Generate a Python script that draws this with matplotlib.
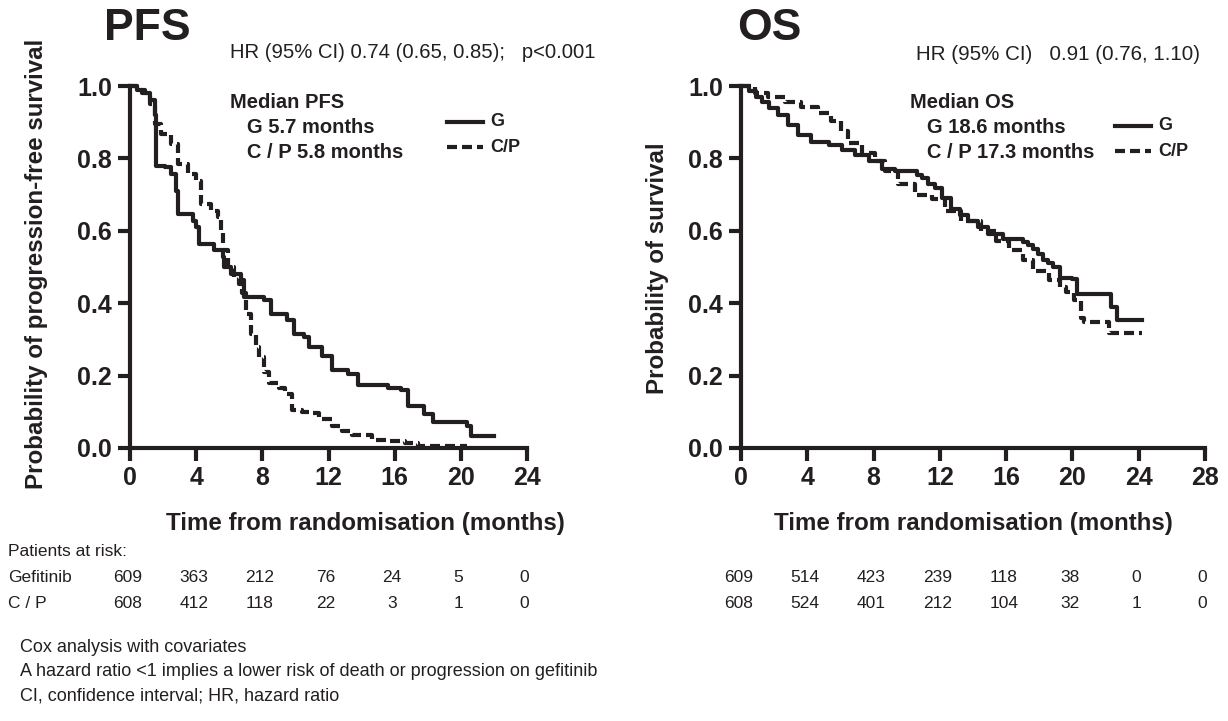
import matplotlib
matplotlib.use("Agg")
import matplotlib.pyplot as plt
import matplotlib.transforms as mtransforms

plt.rcParams["font.family"] = ["Liberation Sans", "DejaVu Sans"]

W, H = 1228, 721

# ---------------------------------------------------------------- data
pfs_g_t = [0, 0.4, 0.7, 1.2, 1.5, 1.6, 2.1, 2.5, 2.8, 2.9, 3.8, 4.0, 4.2, 5.1, 5.6, 5.7, 6.1, 6.7, 6.9, 8.1,
           8.5, 9.5, 9.9, 10.5, 10.8, 11.6, 12.2, 13.2, 13.8, 15.6, 16.4, 16.8, 17.8, 18.3, 20.4, 20.6, 22.0]
pfs_g_s = [1.0, 0.99, 0.98, 0.96, 0.92, 0.78, 0.775, 0.757, 0.71, 0.647, 0.628, 0.61, 0.564, 0.546, 0.528, 0.50,
           0.48, 0.463, 0.417, 0.408, 0.37, 0.353, 0.316, 0.307, 0.28, 0.255, 0.215, 0.205, 0.175, 0.165, 0.16,
           0.115, 0.095, 0.073, 0.06, 0.032, 0.032]

pfs_cp_t = [0, 0.4, 0.9, 1.2, 1.5, 1.9, 2.5, 2.9, 3.5, 4.0, 4.3, 4.9, 5.3, 5.5, 5.6, 5.9, 6.3, 6.6, 6.8, 7.0,
            7.3, 7.6, 7.8, 8.1, 8.4, 9.0, 9.4, 9.8, 10.4, 10.8, 11.4, 12.2, 12.8, 13.4, 14.6, 15.6, 16.6, 17.4, 20.4]
pfs_cp_s = [1.0, 0.99, 0.98, 0.95, 0.895, 0.867, 0.84, 0.784, 0.757, 0.738, 0.674, 0.656, 0.638, 0.60, 0.546,
            0.50, 0.472, 0.454, 0.427, 0.37, 0.316, 0.28, 0.25, 0.21, 0.18, 0.165, 0.15, 0.105, 0.10, 0.096,
            0.08, 0.06, 0.047, 0.037, 0.023, 0.018, 0.014, 0.005, 0.005]

os_g_t = [0, 0.5, 0.9, 1.25, 1.7, 2.25, 2.85, 3.45, 4.25, 5.3, 6.1, 6.9, 7.7, 8.5, 9.3, 10.6, 10.9, 11.3, 11.7,
          12.1, 12.7, 13.2, 13.7, 14.3, 14.9, 15.8, 17.0, 17.3, 17.6, 17.9, 18.2, 18.5, 18.8, 19.25, 20.0, 20.3,
          22.3, 22.7, 24.2]
os_g_s = [1.0, 0.985, 0.97, 0.957, 0.94, 0.92, 0.893, 0.865, 0.845, 0.838, 0.824, 0.81, 0.792, 0.772, 0.765,
          0.755, 0.746, 0.73, 0.719, 0.69, 0.66, 0.645, 0.627, 0.61, 0.59, 0.578, 0.569, 0.56, 0.55, 0.535,
          0.52, 0.51, 0.50, 0.47, 0.468, 0.425, 0.39, 0.353, 0.353]

os_cp_t = [0, 0.85, 1.65, 2.65, 3.65, 4.65, 5.45, 6.05, 6.45, 7.3, 8.1, 8.7, 9.5, 10.5, 11.5, 12.3, 13.3, 14.5,
           15.4, 16.2, 17.0, 17.6, 18.6, 19.25, 19.6, 20.1, 20.5, 20.7, 22.2, 24.2]
os_cp_s = [1.0, 0.98, 0.97, 0.957, 0.943, 0.925, 0.902, 0.875, 0.842, 0.815, 0.792, 0.765, 0.728, 0.70, 0.687,
           0.655, 0.627, 0.60, 0.573, 0.546, 0.518, 0.49, 0.463, 0.445, 0.43, 0.41, 0.36, 0.349, 0.317, 0.317]

pfs_ticks = [0, 4, 8, 12, 16, 20, 24]
os_ticks = [0, 4, 8, 12, 16, 20, 24, 28]
y_ticks = [0.0, 0.2, 0.4, 0.6, 0.8, 1.0]

pfs_risk_g = [609, 363, 212, 76, 24, 5, 0]
pfs_risk_cp = [608, 412, 118, 22, 3, 1, 0]
os_risk_g = [609, 514, 423, 239, 118, 38, 0, 0]
os_risk_cp = [608, 524, 401, 212, 104, 32, 1, 0]

footnotes = [
    "Cox analysis with covariates",
    "A hazard ratio <1 implies a lower risk of death or progression on gefitinib",
    "CI, confidence interval; HR, hazard ratio",
]

ink = "#231f20"


def fx(x):
    return x / W


def fy(y):
    return 1 - y / H


def style_axis(ax, xmax, ticks, ylabel):
    ax.set_xlim(0, xmax)
    ax.set_ylim(0, 1.0)
    ax.set_xticks(ticks)
    ax.set_yticks(y_ticks)
    ax.set_yticklabels([f"{v:.1f}" for v in y_ticks])
    for side in ("top", "right"):
        ax.spines[side].set_visible(False)
    for side in ("left", "bottom"):
        ax.spines[side].set_linewidth(3)
        ax.spines[side].set_color(ink)
    ax.tick_params(direction="out", length=9, width=3, color=ink,
                   labelsize=18, pad=4, labelcolor=ink)
    for lab in ax.get_xticklabels() + ax.get_yticklabels():
        lab.set_fontweight("bold")
    ax.set_xlabel("Time from randomisation (months)", fontsize=17.4, fontweight="bold",
                  color=ink, labelpad=16)
    ax.set_ylabel(ylabel, fontsize=17.4, fontweight="bold", color=ink)


def plot_curves(ax, g_t, g_s, cp_t, cp_s):
    ax.step(g_t, g_s, where="post", color=ink, lw=3, clip_on=False, zorder=4)
    ax.step(cp_t, cp_s, where="post", color=ink, lw=3, clip_on=False, zorder=3,
            dashes=(2.4, 1.2))


fig = plt.figure(figsize=(W / 100, H / 100), dpi=100)
ax1 = fig.add_axes([fx(130), fy(448), fx(527 - 130), (448 - 86) / H])
ax2 = fig.add_axes([fx(741), fy(448), fx(1205 - 741), (448 - 86) / H])

plot_curves(ax1, pfs_g_t, pfs_g_s, pfs_cp_t, pfs_cp_s)
plot_curves(ax2, os_g_t, os_g_s, os_cp_t, os_cp_s)
style_axis(ax1, 24, pfs_ticks, "Probability of progression-free survival")
style_axis(ax2, 28, os_ticks, "Probability of survival")
ax1.yaxis.set_label_coords((48 - 130) / 397, (448 - 264) / 362)
ax2.yaxis.set_label_coords((669 - 741) / 464, (448 - 268) / 362)
ax1.xaxis.label.set_x((365 - 130) / 397)

# titles and HR
fig.text(fx(104), fy(28), "PFS", fontsize=32, fontweight="bold", va="center", color=ink)
fig.text(fx(737), fy(28), "OS", fontsize=32, fontweight="bold", va="center", color=ink)
fig.text(fx(230), fy(52), "HR (95% CI) 0.74 (0.65, 0.85);   p<0.001", fontsize=14.6, va="center", color=ink)
fig.text(fx(916), fy(55), "HR (95% CI)   0.91 (0.76, 1.10)", fontsize=14.8, va="center", color=ink)

# median boxes
for x0, lines in ((230, ["Median PFS", "   G 5.7 months", "   C / P 5.8 months"]),
                  (910, ["Median OS", "   G 18.6 months", "   C / P 17.3 months"])):
    for i, s in enumerate(lines):
        fig.text(fx(x0), fy(102 + 25.5 * i), s, fontsize=14.5, fontweight="bold", va="center", color=ink)

# legend keys
for x0, y0 in ((447, 122), (1115, 126)):
    fig.add_artist(plt.Line2D([fx(x0), fx(x0 + 36)], [fy(y0), fy(y0)], color=ink, lw=3))
    fig.add_artist(plt.Line2D([fx(x0), fx(x0 + 36)], [fy(y0 + 25), fy(y0 + 25)], color=ink, lw=3,
                              dashes=(2.4, 1.2)))
    fig.text(fx(x0 + 43), fy(y0), "G", fontsize=13, fontweight="bold", va="center", color=ink)
    fig.text(fx(x0 + 43), fy(y0 + 25), "C/P", fontsize=13, fontweight="bold", va="center", color=ink)

# patients at risk
fig.text(fx(8), fy(552), "Patients at risk:", fontsize=12.5, va="center", color=ink)
fig.text(fx(8), fy(578), "Gefitinib", fontsize=12.5, va="center", color=ink)
fig.text(fx(8), fy(604), "C / P", fontsize=12.5, va="center", color=ink)
for ax, ticks, rows in ((ax1, pfs_ticks, (pfs_risk_g, pfs_risk_cp)),
                        (ax2, os_ticks, (os_risk_g, os_risk_cp))):
    tr = mtransforms.blended_transform_factory(ax.transData, fig.transFigure)
    for row, yy in zip(rows, (578, 604)):
        for t, n in zip(ticks, row):
            fig.text(t - 0.15, fy(yy), str(n), transform=tr, fontsize=12.5, ha="center",
                     va="center", color=ink)

for i, s in enumerate(footnotes):
    fig.text(fx(20), fy(647 + 24.5 * i), s, fontsize=13, va="center", color=ink)

fig.savefig("out.png", dpi=100)
